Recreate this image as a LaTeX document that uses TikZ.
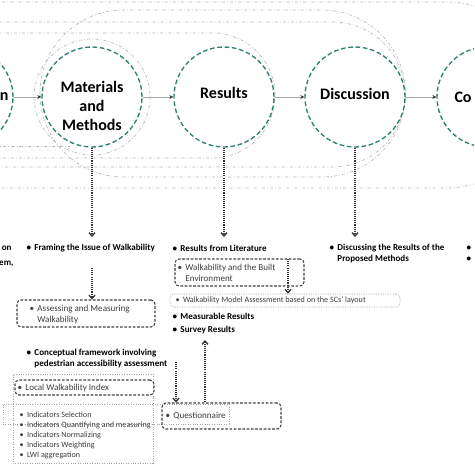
\documentclass[tikz,border=0pt]{standalone}
\usepackage{fontspec}
\setmainfont{Carlito}
\usetikzlibrary{arrows.meta}

\definecolor{stageteal}{RGB}{45,128,115}
\definecolor{loopgrey}{RGB}{185,185,185}
\definecolor{linkgrey}{RGB}{165,165,165}
\definecolor{txtgrey}{RGB}{60,60,60}
\newcommand{\stbul}{\textbullet\hspace{2.6pt}}
\newcommand{\stgap}{\phantom{\textbullet}\hspace{2.6pt}}

\tikzset{every picture/.style={line width=0.75pt}}
\tikzset{
  stage/.style={circle,draw=stageteal,fill=white,line width=1pt,dash pattern={on 3.5pt off 2pt},minimum size=75pt,inner sep=0pt},
  stagelbl/.style={font=\fontsize{12}{14.4}\selectfont\bfseries,align=center,inner sep=0.75pt},
  link/.style={draw=linkgrey,line width=0.6pt,-{Stealth[length=3pt,width=3pt,color=txtgrey]}},
  loopline/.style={draw=loopgrey,line width=0.5pt,dash pattern={on 2.5pt off 1.5pt on 0.6pt off 1.5pt}},
  dotarrow/.style={draw=black!80,line width=1pt,dash pattern={on 0.8pt off 0.8pt},-{Straight Barb[length=2.5pt,width=4.5pt]}},
  dashbox/.style={draw=black!75,rounded corners=3pt,line width=0.8pt,dash pattern={on 2pt off 1.2pt},inner sep=0pt},
  faintbox/.style={draw=black!35,line width=0.5pt,dash pattern={on 0.8pt off 1pt},inner sep=0pt},
  boldtxt/.style={font=\fontsize{6.8}{8.25}\selectfont\bfseries,align=left,inner sep=0pt,anchor=west},
  plaintxt/.style={font=\fontsize{6.8}{8.25}\selectfont,text=txtgrey,align=left,inner sep=0pt,anchor=west},
  smalltxt/.style={font=\fontsize{6.1}{7.5}\selectfont,text=txtgrey,align=left,inner sep=0pt,anchor=west}
}

\begin{document}
\begin{tikzpicture}[x=0.75pt,y=0.75pt,yscale=-1,xscale=1]
\useasboundingbox (0,0) rectangle (474,474);
\clip (0,0) rectangle (474,474);

%Feedback loops
\draw[loopline,rounded corners=69.75pt] (-100,2) rectangle (540,188);
\draw[loopline,rounded corners=62.6pt] (40,10) rectangle (405.5,177);
\draw[loopline,rounded corners=54.4pt] (-100,22) rectangle (405,167);
\draw[loopline,rounded corners=46.9pt] (-100,33) rectangle (275,158);
\draw[loopline] (92,97) circle (43.5pt);
\draw[loopline] (-5,146) -- (70,146);

%Stages
\node[stage] (intro) at (-37,97) {};
\node[stage] (mm) at (92,97) {};
\node[stage] (res) at (224,97) {};
\node[stage] (disc) at (355,97) {};
\node[stage] (concl) at (487,97) {};

% Text Node
\node[stagelbl,anchor=east] (introlbl) at (10,97) {n};
\node[stagelbl] (mmlbl) at (92,106) {Materials\\and\\Methods};
\node[stagelbl] (reslbl) at (224,93) {Results};
\node[stagelbl] (disclbl) at (355,94) {Discussion};
\node[stagelbl,anchor=west] (concllbl) at (453,97) {Co};

%Links between stages
\draw[link] (intro) -- (mm);
\draw[link] (mm) -- (res);
\draw[link] (res) -- (disc);
\draw[link] (disc) -- (concl);

%Boxes
\node[faintbox,minimum width=105pt,minimum height=66.75pt] (lwiframe) at (83,418.5) {};
\node[faintbox,minimum width=169.5pt,minimum height=15pt] (selrow) at (116,414) {};
\node[dashbox,minimum width=103.5pt,minimum height=20.25pt] (assessbox) at (86,313.5) {};
\node[dashbox,minimum width=104.25pt,minimum height=11.25pt] (lwibox) at (84.5,387.5) {};
\node[dashbox,minimum width=96.75pt,minimum height=20.25pt] (builtbox) at (239.5,272.5) {};
\node[faintbox,rounded corners=3pt,minimum width=172.5pt,minimum height=9.75pt] (modelbox) at (285,300.5) {};
\node[dashbox,minimum width=89.25pt,minimum height=19.5pt] (questbox) at (221.5,416) {};

% Text Node
\node[boldtxt,anchor=east] (introa) at (12,248) {on};
\node[boldtxt,anchor=east] (introb) at (14,264) {em,};
\node[boldtxt] (fram) at (26,248) {\stbul Framing the Issue of Walkability};
\node[plaintxt] (assess) at (29,314.5) {\stbul Assessing and Measuring\\\stgap Walkability};
\node[boldtxt] (concept) at (26,358.5) {\stbul Conceptual framework involving\\\stgap pedestrian accessibility assessment};
\node[plaintxt] (lwi) at (17,388) {\stbul Local Walkability Index};
\node[smalltxt] (ind) at (19,435) {\stbul Indicators Selection\\\stbul Indicators Quantifying and measuring\\\stbul Indicators Normalizing\\\stbul Indicators Weighting\\\stbul LWI aggregation};
\node[boldtxt] (reslit) at (172,248) {\stbul Results from Literature};
\node[plaintxt] (built) at (177,272.5) {\stbul Walkability and the Built\\\stgap Environment};
\node[smalltxt] (model) at (175,300) {\stbul Walkability Model Assessment based on the SCs’ layout};
\node[boldtxt] (meas) at (172,316) {\stbul Measurable Results};
\node[boldtxt] (survey) at (172,330) {\stbul Survey Results};
\node[plaintxt] (quest) at (165,416) {\stbul Questionnaire};
\node[boldtxt] (discres) at (329,253.5) {\stbul Discussing the Results of the\\\stgap Proposed Methods};
\node[boldtxt] (conbul) at (466,253.5) {\textbullet\\\textbullet};

%Dotted arrows
\coordinate (mm-in) at (92,237);
\coordinate (res-in) at (224,237);
\coordinate (disc-in) at (355,237);
\coordinate (fram-out) at (92,268);
\coordinate (concept-out) at (176,362);
\coordinate (survey-in) at (205,340);
\coordinate (built-drop) at (288,259);
\draw[dotarrow] (mm) -- (mm-in);
\draw[dotarrow] (res) -- (res-in);
\draw[dotarrow] (disc) -- (disc-in);
\draw[dotarrow] (fram-out) -- (fram-out |- assessbox.north);
\draw[dotarrow] (concept-out) -- (concept-out |- questbox.north);
\draw[dotarrow] (survey-in |- questbox.north) -- (survey-in);
\draw[dotarrow] (built-drop) -- (built-drop |- modelbox.north);

\end{tikzpicture}
\end{document}
